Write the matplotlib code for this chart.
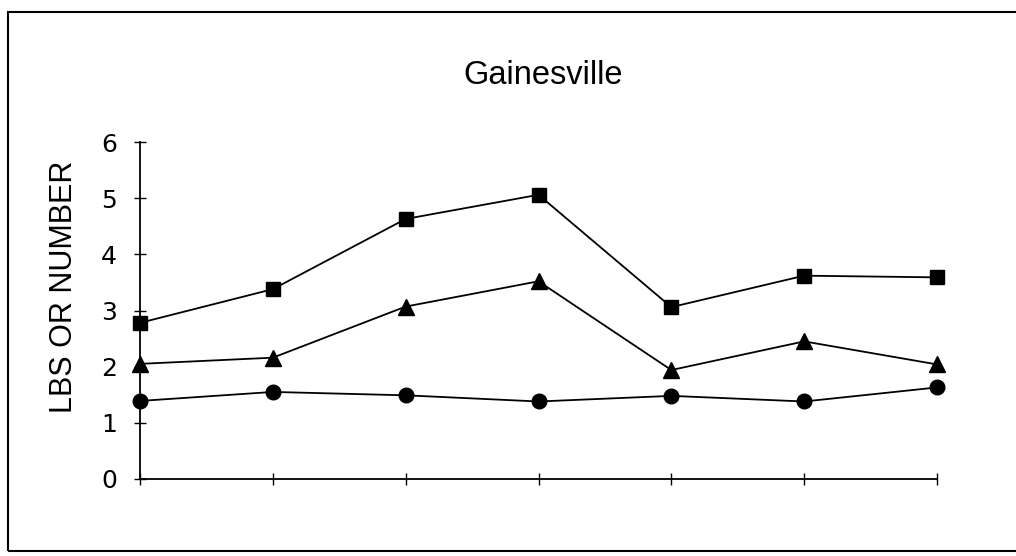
import numpy as np
import matplotlib
matplotlib.use("Agg")
import matplotlib.pyplot as plt
from matplotlib.patches import Rectangle

# Данные
points = [0, 1, 2, 3, 4, 5, 6]
y_ticks = [0, 1, 2, 3, 4, 5, 6]
squares = [2.78, 3.38, 4.63, 5.06, 3.06, 3.62, 3.59]
triangles = [2.05, 2.16, 3.07, 3.52, 1.94, 2.45, 2.04]
circles = [1.39, 1.55, 1.49, 1.38, 1.48, 1.38, 1.63]

title = "Gainesville"
y_label = "LBS OR NUMBER"

# Настройки шрифта
plt.rcParams['font.family'] = ['Liberation Sans', 'DejaVu Sans']

fig = plt.figure(figsize=(10.16, 5.56), dpi=100)
fig.set_facecolor('white')
ax = fig.add_axes([140/1016, 1 - 479/556, (937 - 140)/1016, (479 - 142)/556])

# Линии с маркерами
line_style = dict(color='black', linewidth=1.3, clip_on=False, zorder=3)
ax.plot(points, squares, marker='s', markersize=10.5, **line_style)
ax.plot(points, triangles, marker='^', markersize=11.5, **line_style)
ax.plot(points, circles, marker='o', markersize=10.5, **line_style)

# Оси
ax.set_xlim(0, 6)
ax.set_ylim(0, 6)
ax.set_xticks(points)
ax.set_xticklabels([])
ax.set_yticks(y_ticks)
ax.set_yticklabels([str(t) for t in y_ticks], fontsize=18, family=['DejaVu Sans'])
ax.spines['right'].set_visible(False)
ax.spines['top'].set_visible(False)
ax.spines['left'].set_linewidth(1.3)
ax.spines['bottom'].set_linewidth(1.3)
ax.tick_params(axis='both', direction='inout', length=9, width=1.0, colors='black')
ax.tick_params(axis='y', pad=12)

ax.set_ylabel(y_label, fontsize=22)
ax.yaxis.set_label_coords(-0.076, 0.57)

# Заголовок
fig.text(543/1016, 1 - 76/556, title, fontsize=23.5, ha='center', va='center')

# Рамка вокруг графика
frame = Rectangle((8/1016, 1 - 551/556), 1.2, (551 - 12)/556, transform=fig.transFigure,
                  fill=False, edgecolor='black', linewidth=1.5, clip_on=False)
fig.patches.append(frame)

fig.savefig('out.png', dpi=100)
